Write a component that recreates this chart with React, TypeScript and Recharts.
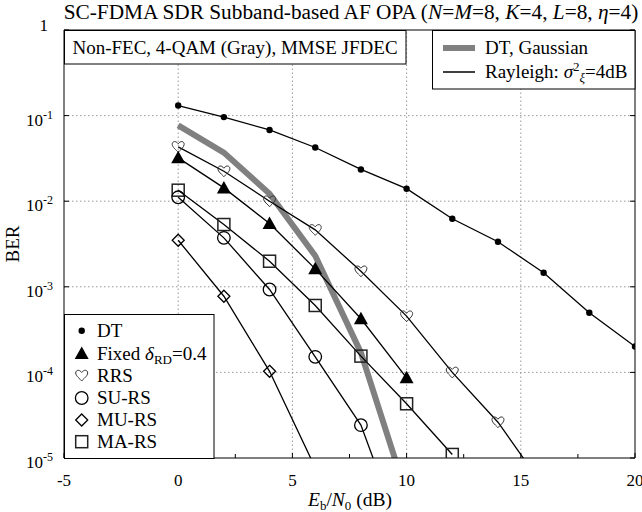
import React from "react";
import { LineChart, Line, XAxis, YAxis, ReferenceLine } from "recharts";

// Eb/N0 grid (dB) shared by all curves
const ebn0 = [0, 2, 4, 6, 8, 10, 12, 14, 16, 18, 20];

// BER per scheme (values listed from 0 dB upward, one per 2 dB step)
const berDT = [0.131, 0.096, 0.068, 0.0424, 0.0235, 0.014, 0.00623, 0.00336, 0.00146, 4.97e-4, 2.01e-4];
const berFixed = [0.0321, 0.0143, 0.00549, 0.00162, 4.23e-4, 8.65e-5];
const berRRS = [0.0432, 0.0224, 0.01, 0.00463, 0.00152, 4.54e-4, 1.0e-4, 2.62e-5, 4.6e-6];
const berSU = [0.0111, 0.00373, 9.3e-4, 1.52e-4, 2.42e-5, 8.7e-7];
const berMU = [0.0035, 7.76e-4, 1.03e-4, 7.7e-6];
const berMA = [0.01345, 0.00534, 0.00199, 6.05e-4, 1.55e-4, 4.3e-5, 1.1e-5];
const berGauss = [0.077, 0.037, 0.0122, 0.0023, 1.7e-4, 3.7e-6];

const xTicks = [-5, -2.5, 0, 2.5, 5, 7.5, 10, 12.5, 15, 17.5, 20];
const yTicks = [1e-5, 1e-4, 1e-3, 1e-2, 1e-1, 1];
const xGrid = [0, 5, 10, 15];
const yGrid = [1e-4, 1e-3, 1e-2, 1e-1];

const BER_FLOOR = 1e-5;
const FONT = "Liberation Serif, DejaVu Serif, serif";

const toSeries = (vals: number[]) => vals.map((v, i) => ({ x: ebn0[i], y: v }));

type Kind = "dot" | "tri" | "heart" | "circle" | "diamond" | "square";

function Marker({ kind, cx, cy }: { kind: Kind; cx: number; cy: number }) {
  switch (kind) {
    case "dot":
      return <circle cx={cx} cy={cy} r={3.2} fill="#000" />;
    case "tri":
      return <path d={`M${cx},${cy - 7} L${cx + 7},${cy + 5.5} L${cx - 7},${cy + 5.5} Z`} fill="#000" />;
    case "heart":
      return (
        <path
          d={`M${cx},${cy + 5.5} C${cx - 1.5},${cy + 3.5} ${cx - 6},${cy + 0.5} ${cx - 6},${cy - 2.5} C${cx - 6},${cy - 5.5} ${cx - 2.5},${cy - 6.5} ${cx},${cy - 3} C${cx + 2.5},${cy - 6.5} ${cx + 6},${cy - 5.5} ${cx + 6},${cy - 2.5} C${cx + 6},${cy + 0.5} ${cx + 1.5},${cy + 3.5} ${cx},${cy + 5.5} Z`}
          fill="none"
          stroke="#333"
          strokeWidth={1}
        />
      );
    case "circle":
      return <circle cx={cx} cy={cy} r={6.3} fill="none" stroke="#000" strokeWidth={1.3} />;
    case "diamond":
      return <path d={`M${cx},${cy - 6} L${cx + 6},${cy} L${cx},${cy + 6} L${cx - 6},${cy} Z`} fill="none" stroke="#000" strokeWidth={1.3} />;
    case "square":
      return <rect x={cx - 6} y={cy - 6} width={12} height={12} fill="none" stroke="#222" strokeWidth={1.5} />;
  }
  return null;
}

const makeDot = (kind: Kind) => (p: any) => {
  const v = p.payload ? p.payload.y : p.value;
  if (v == null || v < BER_FLOOR || p.cx == null || p.cy == null) return <g key={`e-${kind}-${p.index}`} />;
  return <Marker key={`m-${kind}-${p.index}`} kind={kind} cx={p.cx} cy={p.cy} />;
};

const textStyle = { fontFamily: FONT };

const XTick = (p: any) => {
  const { x, y, payload } = p;
  const v = payload.value;
  const major = Number.isInteger(v);
  return (
    <g>
      <line x1={x} x2={x} y1={y} y2={y - (major ? 5 : 4)} stroke="#000" />
      {major && (
        <text x={x} y={y + 28} textAnchor="middle" style={textStyle} fontSize={17} fill="#000">
          {v}
        </text>
      )}
    </g>
  );
};

const YTickLeft = (p: any) => {
  const { x, y, payload } = p;
  const exp = Math.round(Math.log10(payload.value));
  return (
    <g>
      <line x1={x} x2={x + 5} y1={y} y2={y} stroke="#000" />
      {exp === 0 ? (
        <text x={x - 16} y={y + 1} textAnchor="end" style={textStyle} fontSize={17} fill="#000">
          1
        </text>
      ) : (
        <text x={x - 11} y={y + 10} textAnchor="end" style={textStyle} fontSize={17} fill="#000">
          <tspan>10</tspan>
          <tspan dy={-7} fontSize={12}>{exp}</tspan>
        </text>
      )}
    </g>
  );
};

const YTickRight = (p: any) => {
  const { x, y } = p;
  return <line x1={x} x2={x - 5} y1={y} y2={y} stroke="#000" />;
};

function Overlay() {
  const legendRows: { kind: Kind; label: React.ReactNode }[] = [
    { kind: "dot", label: "DT" },
    {
      kind: "tri",
      label: (
        <>
          <tspan>Fixed </tspan>
          <tspan fontStyle="italic">δ</tspan>
          <tspan dy={4} fontSize={13}>RD</tspan>
          <tspan dy={-4}>=0.4</tspan>
        </>
      ),
    },
    { kind: "heart", label: "RRS" },
    { kind: "circle", label: "SU-RS" },
    { kind: "diamond", label: "MU-RS" },
    { kind: "square", label: "MA-RS" },
  ];
  const rowY = [330.7, 353.5, 375.5, 398, 420, 441.7];
  return (
    <svg width={642} height={512} style={{ position: "absolute", left: 0, top: 0, pointerEvents: "none", fontFamily: FONT }}>
      <text x={351} y={19} textAnchor="middle" style={textStyle} fontSize={21.3} fill="#000">
        <tspan>SC-FDMA SDR Subband-based AF OPA (</tspan>
        <tspan fontStyle="italic">N</tspan>
        <tspan>=</tspan>
        <tspan fontStyle="italic">M</tspan>
        <tspan>=8, </tspan>
        <tspan fontStyle="italic">K</tspan>
        <tspan>=4, </tspan>
        <tspan fontStyle="italic">L</tspan>
        <tspan>=8, </tspan>
        <tspan fontStyle="italic">η</tspan>
        <tspan>=4)</tspan>
      </text>

      {/* scenario caption */}
      <rect x={64.5} y={30.5} width={341.5} height={33.5} fill="#fff" stroke="#000" strokeWidth={1} />
      <text x={235} y={54} textAnchor="middle" style={textStyle} fontSize={19} fill="#000">
        Non-FEC, 4-QAM (Gray), MMSE JFDEC
      </text>

      {/* line-style legend */}
      <rect x={432.5} y={30.5} width={202.5} height={58.5} fill="#fff" stroke="#000" strokeWidth={1} />
      <line x1={443} x2={475} y1={48} y2={48} stroke="#808080" strokeWidth={6} />
      <text x={485} y={54} style={textStyle} fontSize={19} fill="#000">DT, Gaussian</text>
      <line x1={443} x2={475} y1={72} y2={72} stroke="#000" strokeWidth={1.5} />
      <text x={485} y={78} style={textStyle} fontSize={19} fill="#000">
        <tspan>Rayleigh: </tspan>
        <tspan fontStyle="italic">σ</tspan>
        <tspan dy={-7} fontSize={13}>2</tspan>
        <tspan dy={11} fontSize={13} fontStyle="italic">ξ</tspan>
        <tspan dy={-4}>=4dB</tspan>
      </text>

      {/* marker legend */}
      <rect x={64.5} y={314.5} width={149.5} height={144} fill="#fff" stroke="#000" strokeWidth={1} />
      {legendRows.map((r, i) => (
        <g key={i}>
          <Marker kind={r.kind} cx={81.7} cy={rowY[i]} />
          <text x={97} y={rowY[i] + 6} style={textStyle} fontSize={19} fill="#000">
            {r.label}
          </text>
        </g>
      ))}

      {/* axis titles */}
      <text x={350} y={506} textAnchor="middle" style={textStyle} fontSize={19.5} fill="#000">
        <tspan fontStyle="italic">E</tspan>
        <tspan dy={4} fontSize={13}>b</tspan>
        <tspan dy={-4}>/</tspan>
        <tspan fontStyle="italic">N</tspan>
        <tspan dy={4} fontSize={13}>0</tspan>
        <tspan dy={-4}> (dB)</tspan>
      </text>
      <text x={19} y={244} textAnchor="middle" style={textStyle} fontSize={19} fill="#000" transform="rotate(-90 19 244)">
        BER
      </text>
    </svg>
  );
}

export default function App() {
  const series: { vals: number[]; kind: Kind | null; gray?: boolean; name: string }[] = [
    { vals: berGauss, kind: null, gray: true, name: "DT, Gaussian" },
    { vals: berDT, kind: "dot", name: "DT" },
    { vals: berRRS, kind: "heart", name: "RRS" },
    { vals: berFixed, kind: "tri", name: "Fixed" },
    { vals: berMA, kind: "square", name: "MA-RS" },
    { vals: berSU, kind: "circle", name: "SU-RS" },
    { vals: berMU, kind: "diamond", name: "MU-RS" },
  ];
  return (
    <div style={{ position: "absolute", left: 0, top: 0, width: 642, height: 512, background: "#fff", fontFamily: FONT }}>
      <LineChart width={642} height={512} margin={{ top: 30, right: 0, bottom: 0, left: 0 }}>
        <XAxis
          type="number"
          dataKey="x"
          domain={[-5, 20]}
          ticks={xTicks}
          interval={0}
          height={54}
          tickSize={0}
          tickMargin={0}
          tickLine={false}
          axisLine={{ stroke: "#000" }}
          tick={<XTick />}
          allowDataOverflow
        />
        <YAxis
          yAxisId="l"
          scale="log"
          domain={[1e-5, 1]}
          ticks={yTicks}
          interval={0}
          width={64}
          tickSize={0}
          tickMargin={0}
          tickLine={false}
          axisLine={{ stroke: "#000" }}
          tick={<YTickLeft />}
          allowDataOverflow
        />
        <YAxis
          yAxisId="r"
          orientation="right"
          scale="log"
          domain={[1e-5, 1]}
          ticks={yTicks}
          interval={0}
          width={7}
          tickSize={0}
          tickMargin={0}
          tickLine={false}
          axisLine={{ stroke: "#000" }}
          tick={<YTickRight />}
          allowDataOverflow
        />
        {xGrid.map((v) => (
          <ReferenceLine key={`gx${v}`} yAxisId="l" x={v} stroke="#999" strokeDasharray="1.5 2.5" strokeWidth={1} />
        ))}
        {yGrid.map((v) => (
          <ReferenceLine key={`gy${v}`} yAxisId="l" y={v} stroke="#999" strokeDasharray="1.5 2.5" strokeWidth={1} />
        ))}
        <ReferenceLine yAxisId="l" y={1} stroke="#000" strokeWidth={1} ifOverflow="visible" />
        {series.map((s) => (
          <Line
            key={s.name}
            name={s.name}
            yAxisId="l"
            data={toSeries(s.vals)}
            dataKey="y"
            type="linear"
            stroke={s.gray ? "#808080" : "#000"}
            strokeWidth={s.gray ? 6 : 1.3}
            dot={s.kind ? makeDot(s.kind) : false}
            activeDot={false}
            isAnimationActive={false}
          />
        ))}
      </LineChart>
      <Overlay />
    </div>
  );
}
